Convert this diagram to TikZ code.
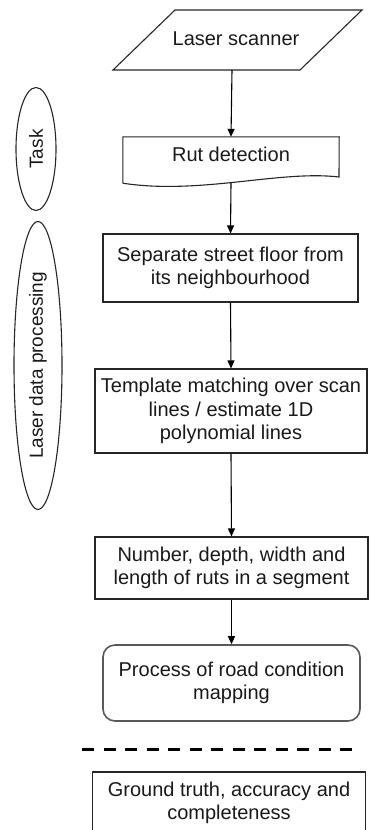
\documentclass[tikz,border=0pt]{standalone}
\usepackage{fontspec}
\setmainfont{Liberation Sans}
\usetikzlibrary{arrows.meta,shapes.geometric}
\begin{document}
\begin{tikzpicture}[x=1pt,y=-1pt,
  txt/.style={font=\fontsize{20}{23.5}\selectfont, text=black!90, align=center, inner sep=0pt},
  outline/.style={draw=black!85, line width=1.1pt},
  stepbox/.style={txt, outline, rectangle},
  endbox/.style={txt, draw=black!65, line width=1.6pt, rectangle, rounded corners=12pt},
  phase/.style={txt, font=\fontsize{19}{23}\selectfont, outline, ellipse, rotate=90},
  flow/.style={draw=black, line width=1.1pt, -{Triangle[length=8pt,width=7pt]}},
  divider/.style={draw=black, line width=3pt, dash pattern=on 12pt off 9.5pt}]
\useasboundingbox (0,0) rectangle (371,830);
\clip (0,0) rectangle (371,830);

% input: laser scanner (parallelogram)
\node[txt] (scanner) at (236,39) {Laser scanner};
\draw[outline] (113,70) -- (175,10) -- (362,10) -- (300,70) -- cycle;
\coordinate (scanfoot) at (232,70);

% task: rut detection (document shape)
\node[txt, minimum width=216pt, minimum height=46pt] (rut) at (231,160) {};
\node[txt] (ruttext) at (231,154) {Rut detection};
\draw[outline] (rut.south west) -- (rut.north west) -- (rut.north east) -- (339,177)
  .. controls (280,170) and (200,195) .. (rut.south west);

% processing steps
\node[stepbox, minimum width=255pt, minimum height=68pt] (separate) at (230.5,268)
  {Separate street floor from\\its neighbourhood};
\node[stepbox, minimum width=272pt, minimum height=84pt] (template) at (231,411)
  {Template matching over scan\\lines / estimate 1D\\polynomial lines};
\node[stepbox, minimum width=273pt, minimum height=62pt] (ruts) at (231.5,568)
  {Number, depth, width and\\length of ruts in a segment};
\node[endbox, minimum width=257pt, minimum height=76pt] (mapping) at (231.5,683)
  {Process of road condition\\mapping};

% evaluation below the divider
\coordinate (divL) at (82,749);
\coordinate (divR) at (360,749);
\draw[divider] (divL) -- (divR);
\node[stepbox, minimum width=273pt, minimum height=62pt] (ground) at (229,803)
  {Ground truth, accuracy and\\completeness};

% phase labels on the left
\node[phase, minimum width=123pt, minimum height=40pt] (task) at (36,149) {Task};
\node[phase, minimum width=288pt, minimum height=48pt] (laserproc) at (38,365.5)
  {Laser data processing};

% connectors
\draw[flow] (scanfoot) -- (rut.north);
\draw[flow] (rut.south) -- (separate.north);
\draw[flow] (separate.south) -- (template.north);
\draw[flow] (template.south) -- (ruts.north);
\draw[flow] (ruts.south) -- (mapping.north);
\end{tikzpicture}
\end{document}
